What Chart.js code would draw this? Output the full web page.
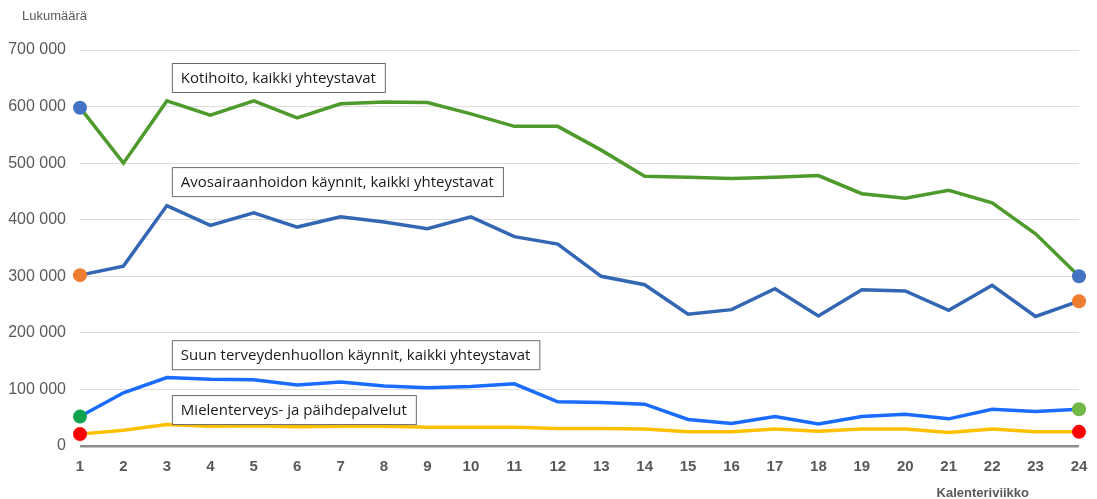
<!DOCTYPE html>
<html>
<head>
<meta charset="utf-8">
<script src="https://cdn.jsdelivr.net/npm/chart.js@4"></script>
<style>
  html, body { margin: 0; padding: 0; background: #fff; }
  #wrap { width: 1097px; height: 499px; position: relative; }
</style>
</head>
<body>
<div id="wrap"><canvas id="chart"></canvas></div>
<script>
/* Viikoittaiset käynnit — kalenteriviikot 1–24 */

const weeks = Array.from({ length: 24 }, (_, i) => String(i + 1));

const kotihoito = [598000, 500000, 610000, 585000, 610000, 580000, 605000, 608000, 607000, 587000, 565000, 565000,
  523000, 477000, 475000, 473000, 475000, 478000, 446000, 438000, 452000, 430000, 375000, 300000];

const avosairaanhoito = [302000, 318000, 425000, 390000, 412000, 387000, 405000, 396000, 384000, 405000, 370000, 357000,
  300000, 285000, 233000, 241000, 278000, 230000, 276000, 274000, 240000, 284000, 229000, 256000];

const suunTerveys = [52000, 94000, 121000, 118000, 117000, 108000, 113000, 106000, 103000, 105000, 110000, 78000,
  77000, 74000, 47000, 40000, 52000, 39000, 52000, 56000, 48000, 65000, 61000, 65000];

const mielenterveys = [21000, 28000, 38000, 35000, 36000, 34000, 35000, 35000, 33000, 33000, 33000, 31000,
  31000, 30000, 25000, 25000, 30000, 26000, 30000, 30000, 24000, 30000, 25000, 25000];

const seriesLabels = [
  'Kotihoito, kaikki yhteystavat',
  'Avosairaanhoidon käynnit, kaikki yhteystavat',
  'Suun terveydenhuollon käynnit, kaikki yhteystavat',
  'Mielenterveys- ja päihdepalvelut',
];

const LINE = ['#4f9a2c', '#3366b3', '#1a6cff', '#ffc000'];
const DOT_START = ['#4472c4', '#ed7d31', '#0fa34f', '#ff0000'];
const DOT_END = ['#4472c4', '#ed7d31', '#70b743', '#ff0000'];

// laatikoiden paikat: [x-indeksi, arvo ylälaidalle]
const boxAnchors = [[2, 677000], [2, 493000], [2, 187000], [2, 90000]];

function makeSet(i, data) {
  const last = data.length - 1;
  return {
    label: seriesLabels[i],
    data,
    borderColor: LINE[i],
    borderWidth: 3.5,
    tension: 0,
    pointRadius: c => (c.dataIndex === 0 || c.dataIndex === last) ? 7 : 0,
    pointHoverRadius: c => (c.dataIndex === 0 || c.dataIndex === last) ? 7 : 0,
    pointBorderWidth: 0,
    pointBackgroundColor: c => c.dataIndex === 0 ? DOT_START[i] : DOT_END[i],
    clip: false,
  };
}

/* ── Tekstilaatikot ja akselien otsikot ── */
const labelsPlugin = {
  id: 'labels',
  afterDatasetsDraw(chart) {
    const { ctx, scales: { x, y }, chartArea } = chart;
    ctx.save();
    ctx.font = '15px "Open Sans", "Noto Sans", sans-serif';
    ctx.textBaseline = 'middle';
    boxAnchors.forEach(([xi, v], i) => {
      const left = x.getPixelForValue(xi) + 5;
      const top = y.getPixelForValue(v);
      const w = ctx.measureText(seriesLabels[i]).width + 18;
      const h = 29;
      ctx.fillStyle = '#fff';
      ctx.fillRect(left, top, w, h);
      ctx.strokeStyle = '#6b6b6b';
      ctx.lineWidth = 1;
      ctx.strokeRect(left + 0.5, top + 0.5, w, h);
      ctx.fillStyle = '#1a1a1a';
      ctx.fillText(seriesLabels[i], left + 9, top + h / 2 + 1);
    });

    ctx.fillStyle = '#595959';
    ctx.font = '13px Arial, "Liberation Sans", sans-serif';
    ctx.textBaseline = 'alphabetic';
    ctx.fillText('Lukumäärä', 22, 20);
    ctx.font = 'bold 13px Arial, "Liberation Sans", sans-serif';
    ctx.textAlign = 'right';
    ctx.fillText('Kalenteriviikko', chartArea.right - 50, 497);
    ctx.restore();
  }
};

new Chart(document.getElementById('chart'), {
  type: 'line',
  data: {
    labels: weeks,
    datasets: [
      makeSet(0, kotihoito),
      makeSet(1, avosairaanhoito),
      makeSet(2, suunTerveys),
      makeSet(3, mielenterveys),
    ]
  },
  options: {
    responsive: true,
    maintainAspectRatio: false,
    animation: false,
    layout: { padding: { left: 0, right: 18, top: 50, bottom: 19 } },
    plugins: { legend: { display: false }, tooltip: { enabled: false } },
    scales: {
      x: {
        offset: false,
        grid: { display: false },
        border: { display: false },
        ticks: { color: '#595959', font: { size: 15, weight: 'bold', family: 'Arial' }, padding: 4, maxRotation: 0 },
      },
      y: {
        min: 0,
        max: 700000,
        afterFit: axis => { axis.width = 80; },
        grid: {
          color: c => c.tick.value === 0 ? '#8c8c8c' : '#dedede',
          lineWidth: c => c.tick.value === 0 ? 2.5 : 1,
          drawTicks: false,
        },
        border: { display: false },
        ticks: {
          stepSize: 100000,
          padding: 14,
          color: '#595959',
          font: { size: 16, family: 'Arial' },
          callback: v => v === 0 ? '0' : String(v / 1000) + ' 000',
        }
      }
    }
  },
  plugins: [labelsPlugin]
});
</script>
</body>
</html>
